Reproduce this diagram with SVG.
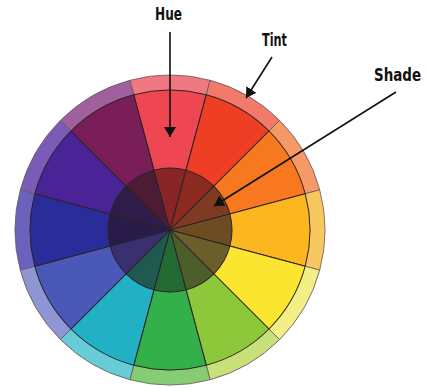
<svg xmlns="http://www.w3.org/2000/svg" xmlns:xlink="http://www.w3.org/1999/xlink" width="426" height="388" viewBox="0 0 426 388">
  <style>
    .seg { stroke: #2b2426; stroke-width: 1; stroke-linejoin: round; }
    .outer { stroke: #6a5a60; stroke-width: 0.8; }
    .lbl { font-family: "DejaVu Sans Condensed", "DejaVu Sans", "Liberation Sans", sans-serif; font-weight: bold; font-size: 15px; fill: #111; }
    .arr { stroke: #111; stroke-width: 1.6; fill: none; }
  </style>
  <defs>
    <path id="w155" d="M170,230 L129.883,80.281 A155,155 0 0 1 210.117,80.281 Z"/>
    <path id="w140" d="M170,230 L133.765,94.770 A140,140 0 0 1 206.235,94.770 Z"/>
    <path id="w62" d="M170,230 L153.953,170.113 A62,62 0 0 1 186.047,170.113 Z"/>
    <marker id="head" viewBox="0 0 10 12" refX="10" refY="6" markerWidth="10" markerHeight="12" markerUnits="userSpaceOnUse" orient="auto">
      <path d="M0,0 L10,6 L0,12 Z" fill="#111"/>
    </marker>
  </defs>
  <rect width="426" height="388" fill="#ffffff"/>

  <g id="wheel">
    <g id="tint-ring" class="seg outer">
      <use xlink:href="#w155" fill="#f07880" transform="rotate(0 170 230)"/>
      <use xlink:href="#w155" fill="#f27a6a" transform="rotate(30 170 230)"/>
      <use xlink:href="#w155" fill="#f59a66" transform="rotate(60 170 230)"/>
      <use xlink:href="#w155" fill="#f7c860" transform="rotate(90 170 230)"/>
      <use xlink:href="#w155" fill="#f3ee86" transform="rotate(120 170 230)"/>
      <use xlink:href="#w155" fill="#c8e07a" transform="rotate(150 170 230)"/>
      <use xlink:href="#w155" fill="#86cc72" transform="rotate(180 170 230)"/>
      <use xlink:href="#w155" fill="#66ccd6" transform="rotate(210 170 230)"/>
      <use xlink:href="#w155" fill="#8e96d4" transform="rotate(240 170 230)"/>
      <use xlink:href="#w155" fill="#6a62bc" transform="rotate(270 170 230)"/>
      <use xlink:href="#w155" fill="#7a5cb8" transform="rotate(300 170 230)"/>
      <use xlink:href="#w155" fill="#a0609e" transform="rotate(330 170 230)"/>
    </g>
    <g id="hue-ring" class="seg">
      <use xlink:href="#w140" fill="#ee4652" transform="rotate(0 170 230)"/>
      <use xlink:href="#w140" fill="#ee3e24" transform="rotate(30 170 230)"/>
      <use xlink:href="#w140" fill="#f7781e" transform="rotate(60 170 230)"/>
      <use xlink:href="#w140" fill="#fbb620" transform="rotate(90 170 230)"/>
      <use xlink:href="#w140" fill="#fbe52e" transform="rotate(120 170 230)"/>
      <use xlink:href="#w140" fill="#8cc83a" transform="rotate(150 170 230)"/>
      <use xlink:href="#w140" fill="#34b04a" transform="rotate(180 170 230)"/>
      <use xlink:href="#w140" fill="#22b0c4" transform="rotate(210 170 230)"/>
      <use xlink:href="#w140" fill="#4a58b8" transform="rotate(240 170 230)"/>
      <use xlink:href="#w140" fill="#2a2c9a" transform="rotate(270 170 230)"/>
      <use xlink:href="#w140" fill="#4a2496" transform="rotate(300 170 230)"/>
      <use xlink:href="#w140" fill="#7a1e5a" transform="rotate(330 170 230)"/>
    </g>
    <g id="shade-ring" class="seg">
      <use xlink:href="#w62" fill="#8a2426" transform="rotate(0 170 230)"/>
      <use xlink:href="#w62" fill="#8c2a22" transform="rotate(30 170 230)"/>
      <use xlink:href="#w62" fill="#7e3a22" transform="rotate(60 170 230)"/>
      <use xlink:href="#w62" fill="#6e4c22" transform="rotate(90 170 230)"/>
      <use xlink:href="#w62" fill="#6a5e2a" transform="rotate(120 170 230)"/>
      <use xlink:href="#w62" fill="#4e5e2a" transform="rotate(150 170 230)"/>
      <use xlink:href="#w62" fill="#236a34" transform="rotate(180 170 230)"/>
      <use xlink:href="#w62" fill="#1e5a50" transform="rotate(210 170 230)"/>
      <use xlink:href="#w62" fill="#3a3070" transform="rotate(240 170 230)"/>
      <use xlink:href="#w62" fill="#2a1c4a" transform="rotate(270 170 230)"/>
      <use xlink:href="#w62" fill="#301c48" transform="rotate(300 170 230)"/>
      <use xlink:href="#w62" fill="#4c1c34" transform="rotate(330 170 230)"/>
    </g>
  </g>

  <g id="connectors">
    <line id="arrow-hue" class="arr" x1="170" y1="32" x2="170" y2="137" marker-end="url(#head)"/>
    <line id="arrow-tint" class="arr" x1="272" y1="57" x2="246" y2="98" marker-end="url(#head)"/>
    <line id="arrow-shade" class="arr" x1="396" y1="92" x2="214" y2="206" marker-end="url(#head)"/>
  </g>

  <g id="label-hue" transform="translate(155 20) scale(1 1.2)"><text class="lbl" x="0" y="0" textLength="27" lengthAdjust="spacingAndGlyphs">Hue</text></g>
  <g id="label-tint" transform="translate(262 46) scale(1 1.2)"><text class="lbl" x="0" y="0" textLength="25" lengthAdjust="spacingAndGlyphs">Tint</text></g>
  <g id="label-shade" transform="translate(374 81) scale(1 1.2)"><text class="lbl" x="0" y="0" textLength="47" lengthAdjust="spacingAndGlyphs">Shade</text></g>
</svg>
